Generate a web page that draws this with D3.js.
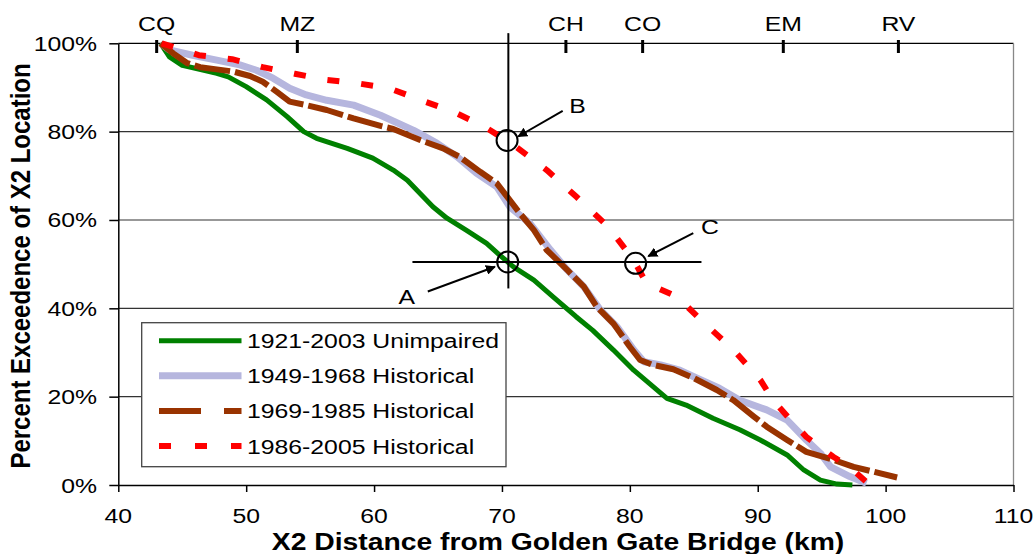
<!DOCTYPE html>
<html>
<head>
<meta charset="utf-8">
<script src="https://cdn.jsdelivr.net/npm/d3@7"></script>
<style>
  body { margin: 0; background: #fff; }
  text { font-family: "Liberation Sans", Arial, sans-serif; fill: #000; }
</style>
</head>
<body>
<script>
// X2 exceedence curves: [km from Golden Gate, percent exceedence]
const unimpaired = [
  [43.3, 100], [44.0, 96.9], [45.0, 95.0], [46.1, 94.3], [47.7, 93.2], [48.6, 92.4],
  [50.0, 90.2], [51.6, 87.2], [53.2, 83.4], [54.5, 80.0], [55.5, 78.5], [57.9, 76.2],
  [59.9, 74.0], [61.5, 71.3], [62.6, 69.0], [63.6, 66.0], [64.6, 63.0], [65.7, 60.4],
  [67.2, 57.7], [68.8, 54.7], [69.8, 52.1], [70.9, 49.4], [72.5, 46.4], [74.0, 42.6],
  [75.8, 38.1], [77.1, 35.0], [78.7, 30.6], [80.3, 26.0], [82.9, 19.6], [84.4, 18.1],
  [86.5, 15.1], [88.6, 12.5], [90.2, 10.2], [92.3, 6.8], [93.6, 3.4], [94.9, 1.1],
  [96.2, 0.2], [97.4, 0]
];
const hist4968 = [
  [43.3, 100], [44.0, 98.5], [45.8, 97.3], [47.7, 96.2], [49.5, 95.1], [50.8, 93.9],
  [52.1, 92.1], [53.4, 89.8], [54.7, 88.3], [56.3, 87.1], [58.4, 86.0], [60.5, 83.7],
  [63.1, 80.3], [64.9, 77.4], [66.5, 74.3], [68.0, 70.6], [69.6, 67.5], [70.6, 63.0],
  [72.2, 59.2], [73.8, 53.2], [75.1, 48.7], [76.4, 44.9], [77.7, 39.6], [79.0, 35.8],
  [80.3, 30.6], [81.1, 27.9], [82.4, 27.2], [83.9, 26.0], [85.0, 24.5], [87.0, 21.9],
  [88.6, 19.2], [90.7, 17.0], [92.3, 14.7], [93.8, 10.2], [94.9, 7.2], [95.7, 4.1],
  [97.2, 1.9], [98.5, 0.4]
];
const hist6985 = [
  [43.3, 100], [44.3, 97.7], [45.4, 95.5], [46.4, 94.6], [47.7, 94.1], [49.0, 93.6],
  [50.3, 92.6], [51.3, 91.3], [52.4, 89.0], [53.4, 86.8], [54.7, 86.0], [56.3, 84.9],
  [58.4, 83.0], [60.5, 81.3], [61.5, 80.6], [63.6, 78.1], [65.4, 76.2], [66.7, 74.3],
  [68.3, 70.9], [69.6, 68.3], [70.4, 65.3], [71.4, 61.5], [72.5, 57.7], [73.5, 53.2],
  [75.1, 48.7], [76.4, 44.9], [77.4, 40.4], [78.7, 36.6], [80.0, 31.3], [80.8, 28.3],
  [81.8, 27.2], [83.4, 26.2], [85.0, 24.2], [86.8, 21.5], [88.1, 19.2], [89.7, 15.5],
  [90.7, 13.2], [92.3, 10.2], [93.8, 7.5], [95.9, 5.7], [97.5, 4.1], [98.5, 3.4],
  [100.9, 1.7]
];
const hist8605 = [
  [43.4, 100], [46.3, 97.3], [48.9, 96.4], [51.3, 94.6], [53.8, 93.1], [56.3, 91.7],
  [58.8, 90.9], [61.2, 89.8], [63.7, 87.1], [66.2, 84.5], [68.7, 81.0], [70.9, 77.0],
  [73.5, 71.3], [75.8, 65.3], [78.3, 58.5], [80.3, 50.9], [81.3, 45.7], [83.7, 42.6],
  [85.7, 37.0], [88.1, 30.6], [90.2, 23.8], [91.2, 19.2], [92.8, 14.0], [93.8, 10.9],
  [95.9, 6.4], [97.0, 4.5], [98.5, 0.7], [99.2, 0.5]
];

const seriesNames = ["1921-2003 Unimpaired", "1949-1968 Historical", "1969-1985 Historical", "1986-2005 Historical"];
const seriesData = [unimpaired, hist4968, hist6985, hist8605];

const xTicks = [40, 50, 60, 70, 80, 90, 100, 110];
const yTicks = [0, 20, 40, 60, 80, 100];
const stations = ["CQ", "MZ", "CH", "CO", "EM", "RV"];
const stationKm = [43, 54, 75, 81, 92, 101];

// annotation points A, B, C and the guide lines
const markLabels = ["A", "B", "C"];
const markPoints = [[70.45, 50.5], [70.4, 78.0], [80.45, 50.2]];
const arrowFrom = [[64.2, 43.8], [74.75, 84.7], [84.96, 57.0]];
const arrowTo = [[69.45, 49.4], [71.27, 78.9], [81.44, 51.8]];
const labelAt = [[62.55, 42.6], [75.9, 85.9], [86.26, 58.5]];
const guideKm = 70.5, guidePct = 50.5;

const width = 1035, height = 554;
const SX = 1.18; // the reference text is stretched horizontally

const x = d3.scaleLinear([40, 110], [118.3, 1013.5]);
const y = d3.scaleLinear([0, 100], [485, 43.3]);

const svg = d3.select("body").append("svg")
  .attr("width", width)
  .attr("height", height);

svg.append("defs").append("marker")
    .attr("id", "arrow")
    .attr("viewBox", "0 0 10 10")
    .attr("refX", 9).attr("refY", 5)
    .attr("markerWidth", 5).attr("markerHeight", 5)
    .attr("markerUnits", "strokeWidth")
    .attr("orient", "auto")
  .append("path")
    .attr("d", "M0,0L10,5L0,10z")
    .attr("fill", "#000");

function label(g, px, py, str, anchor, size, bold) {
  return g.append("text")
    .attr("transform", "translate(" + px + "," + py + ") scale(" + SX + ",1)")
    .attr("text-anchor", anchor)
    .attr("font-size", size)
    .attr("font-weight", bold ? "bold" : null)
    .text(str);
}

// gridlines
svg.append("g")
  .selectAll("line")
  .data(yTicks.filter(d => d > 0 && d < 100))
  .join("line")
    .attr("x1", x(40)).attr("x2", x(110))
    .attr("y1", d => y(d)).attr("y2", d => y(d))
    .attr("stroke", "#333").attr("stroke-width", 1.2);

// frame: top black, right gray
svg.append("line")
    .attr("x1", x(40)).attr("x2", x(110))
    .attr("y1", y(100)).attr("y2", y(100))
    .attr("stroke", "#000").attr("stroke-width", 1.3);
svg.append("line")
    .attr("x1", x(110)).attr("x2", x(110))
    .attr("y1", y(100)).attr("y2", y(0))
    .attr("stroke", "#888").attr("stroke-width", 1.3);

// axes
const xAxis = svg.append("g")
    .attr("transform", "translate(0," + y(0) + ")")
    .call(d3.axisBottom(x).tickValues(xTicks).tickSize(7).tickFormat("").tickSizeOuter(0));
const yAxis = svg.append("g")
    .attr("transform", "translate(" + x(40) + ",0)")
    .call(d3.axisLeft(y).tickValues(yTicks).tickSize(9).tickFormat("").tickSizeOuter(0));
[xAxis, yAxis].forEach(a => {
  a.select(".domain").attr("stroke", "#000").attr("stroke-width", 1.5);
  a.selectAll(".tick line").attr("stroke", "#000").attr("stroke-width", 1.5);
});

xTicks.forEach(d => label(svg, x(d), 523, d, "middle", 21));
yTicks.forEach(d => label(svg, 97, y(d) + 7.5, d + "%", "end", 21));

// station ticks along the top
stationKm.forEach((d, i) => {
  svg.append("line")
      .attr("x1", x(d)).attr("x2", x(d))
      .attr("y1", 40).attr("y2", 53)
      .attr("stroke", "#000").attr("stroke-width", 3);
  label(svg, x(d), 30.5, stations[i], "middle", 21);
});

// series
const line = d3.line().x(d => x(d[0])).y(d => y(d[1]));
const styles = [
  { color: "#008000", width: 5, dash: null, legendDash: null },
  { color: "#b6b6de", width: 7, dash: null, legendDash: null },
  { color: "#993300", width: 6, dash: "36,5", legendDash: "42,23" },
  { color: "#ff0000", width: 6, dash: "12,22", legendDash: "12,24" }
];

seriesData.forEach((data, i) => {
  svg.append("path")
      .attr("d", line(data))
      .attr("fill", "none")
      .attr("stroke", styles[i].color)
      .attr("stroke-width", styles[i].width)
      .attr("stroke-dasharray", styles[i].dash)
      .attr("stroke-linejoin", "round");
});

// guide lines, circles, arrows
svg.append("line")
    .attr("x1", x(guideKm)).attr("x2", x(guideKm))
    .attr("y1", y(102.3)).attr("y2", y(44.5))
    .attr("stroke", "#000").attr("stroke-width", 2);
svg.append("line")
    .attr("x1", x(63.0)).attr("x2", x(85.6))
    .attr("y1", y(guidePct)).attr("y2", y(guidePct))
    .attr("stroke", "#000").attr("stroke-width", 2);

markPoints.forEach((p, i) => {
  svg.append("circle")
      .attr("cx", x(p[0])).attr("cy", y(p[1]))
      .attr("r", 10.5)
      .attr("fill", "none")
      .attr("stroke", "#000").attr("stroke-width", 2);
  svg.append("line")
      .attr("x1", x(arrowFrom[i][0])).attr("y1", y(arrowFrom[i][1]))
      .attr("x2", x(arrowTo[i][0])).attr("y2", y(arrowTo[i][1]))
      .attr("stroke", "#000").attr("stroke-width", 2)
      .attr("marker-end", "url(#arrow)");
  label(svg, x(labelAt[i][0]), y(labelAt[i][1]) + 7.5, markLabels[i], "middle", 21);
});

// legend
const legend = svg.append("g");
legend.append("rect")
    .attr("x", 141.7).attr("y", 322.7)
    .attr("width", 364.3).attr("height", 144)
    .attr("fill", "#fff")
    .attr("stroke", "#444").attr("stroke-width", 1.3);
seriesNames.forEach((name, i) => {
  const ry = 340.7 + i * 35.1;
  legend.append("line")
      .attr("x1", 159).attr("x2", 241.5)
      .attr("y1", ry).attr("y2", ry)
      .attr("stroke", styles[i].color)
      .attr("stroke-width", styles[i].width)
      .attr("stroke-dasharray", styles[i].legendDash);
  label(legend, 247, ry + 7.5, name, "start", 21);
});

// axis titles
label(svg, 558, 550, "X2 Distance from Golden Gate Bridge (km)", "middle", 24, true);
svg.append("text")
    .attr("transform", "translate(30,266) scale(" + SX + ",1) rotate(-90)")
    .attr("text-anchor", "middle")
    .attr("font-size", 24)
    .attr("font-weight", "bold")
    .text("Percent Exceedence of X2 Location");
</script>
</body>
</html>
